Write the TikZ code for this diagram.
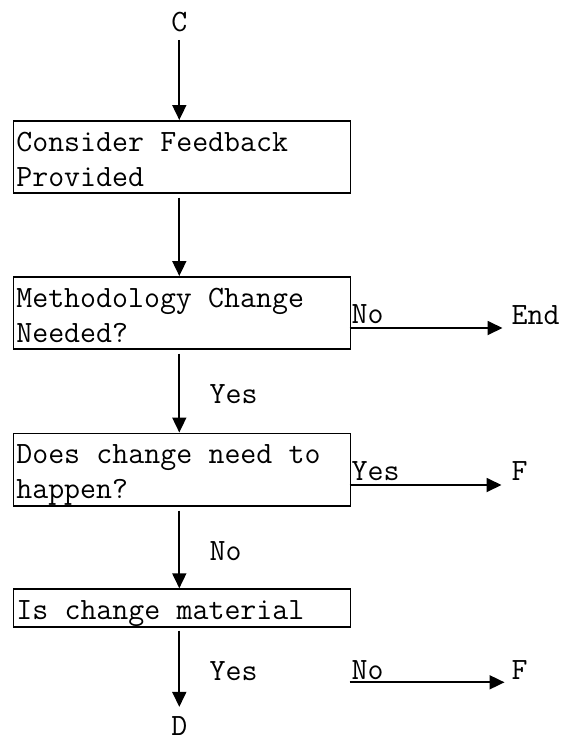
\documentclass[tikz,border=0pt]{standalone}
\usepackage{fontspec}
\usetikzlibrary{arrows.meta}
\newcommand\topst{\rule{0pt}{30.5pt}}
\newcommand\botst{\rule[-6.5pt]{0pt}{6.5pt}}
\newcommand\wsp{\hspace{16.275pt}}
\newcommand\diagfont{\ttfamily\fontsize{31}{35}\selectfont}
\begin{document}
\begin{tikzpicture}[x=1pt,y=-1pt,
  every node/.style={font=\diagfont, inner sep=0pt},
  box/.style={draw, line width=1.7pt, anchor=north west, minimum width=337pt,
    text width=331pt, inner xsep=3pt, inner ysep=0pt, align=left},
  lbl/.style={anchor=base west},
  arr/.style={-{Triangle[length=15pt,width=14pt]}, line width=1.8pt}]
\useasboundingbox (0,0) rectangle (565,742);

\node[box] (b1) at (12.5,120) {\topst Consider\wsp Feedback\\Provided\botst};
\node[box] (b2) at (12.5,276) {\topst Methodology\wsp Change\\Needed?\botst};
\node[box] (b3) at (12.5,432.5) {\topst Does\wsp change\wsp need\wsp to\\happen?\botst};
\node[box] (b4) at (12.5,588.3) {\topst Is\wsp change\wsp material\botst};

\node[anchor=base] (c) at (179.3,31.7) {C};
\node[anchor=base] (d) at (179.3,735) {D};
\node[lbl] (y1) at (209.5,403.3) {Yes};
\node[lbl] (n2) at (209.5,560) {No};
\node[lbl] (y3) at (209.5,680) {Yes};
\node[lbl] (no1) at (351.5,323.3) {No};
\node[lbl] (end) at (511.5,324) {End};
\node[lbl] (ys2) at (351.5,480) {Yes};
\node[lbl] (f1) at (511.5,480) {F};
\node[lbl] (no3) at (351.5,679.3) {No};
\node[lbl] (f2) at (511.5,679) {F};

\coordinate (p1) at (349.5,328);
\coordinate (p2) at (349.5,485);
\coordinate (p3) at (349.5,682.3);

\draw[arr, shorten <=7.5pt] (c.south) -- (c.south |- b1.north);
\draw[arr, shorten <=4pt] (c |- b1.south) -- (c |- b2.north);
\draw[arr, shorten <=4pt] (c |- b2.south) -- (c |- b3.north);
\draw[arr, shorten <=4pt] (c |- b3.south) -- (c |- b4.north);
\draw[arr, shorten <=3pt, shorten >=9pt] (c |- b4.south) -- (d.north);

\draw[arr, shorten >=9pt] (p1) -- (p1 -| end.west);
\draw[arr, shorten >=10pt] (p2) -- (p2 -| f1.west);
\draw[arr, shorten >=7pt] (p3) -- (p3 -| f2.west);
\end{tikzpicture}
\end{document}
